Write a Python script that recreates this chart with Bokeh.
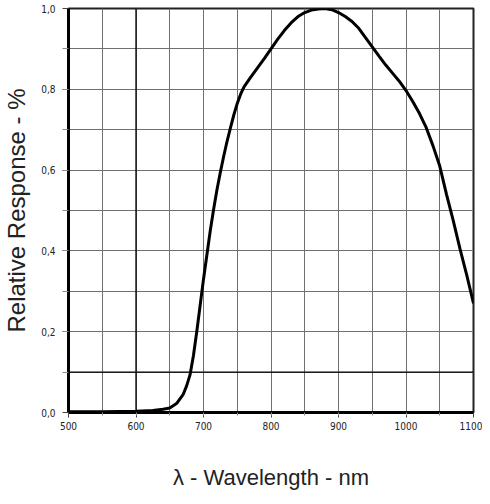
from bokeh.plotting import figure
from bokeh.models import FixedTicker, Span, Grid
from bokeh.embed import file_html
from bokeh.resources import INLINE

wavelength = [500, 550, 600, 625, 640, 650, 660, 670, 675, 680, 685, 690, 695, 700, 705,
              710, 715, 720, 725, 730, 735, 740, 745, 750, 755, 760, 770, 780, 790, 800,
              810, 820, 830, 840, 850, 860, 870, 880, 890, 900, 910, 920, 930, 940, 950,
              960, 970, 980, 990, 1000, 1010, 1020, 1030, 1040, 1050, 1060, 1070, 1080,
              1090, 1100]
response = [0.002, 0.002, 0.003, 0.005, 0.008, 0.011, 0.022, 0.045, 0.066, 0.093, 0.14,
            0.20, 0.265, 0.33, 0.39, 0.45, 0.503, 0.552, 0.595, 0.635, 0.672, 0.705, 0.737,
            0.765, 0.788, 0.806, 0.83, 0.853, 0.876, 0.90, 0.924, 0.946, 0.965, 0.98, 0.99,
            0.996, 0.999, 1.0, 0.997, 0.99, 0.98, 0.968, 0.951, 0.928, 0.905, 0.882, 0.86,
            0.84, 0.82, 0.797, 0.77, 0.74, 0.705, 0.66, 0.61, 0.54, 0.475, 0.405, 0.34,
            0.27]

x_ticks = [500, 600, 700, 800, 900, 1000, 1100]
x_grid = [550, 600, 650, 700, 750, 800, 850, 900, 950, 1000, 1050]
y_ticks = [0.0, 0.2, 0.4, 0.6, 0.8, 1.0]
y_tick_labels = ["0,0", "0,2", "0,4", "0,6", "0,8", "1,0"]
y_grid = [0.1, 0.2, 0.3, 0.4, 0.5, 0.6, 0.7, 0.8, 0.9]
dark_x = [600]
dark_y = [0.1]

FONT = "Liberation Sans"
TICK_FONT = "'Liberation Sans Narrow', 'DejaVu Sans Condensed', 'Liberation Sans'"

p = figure(frame_width=405, frame_height=404, x_range=(500, 1100), y_range=(0, 1.0),
           output_backend="svg", toolbar_location=None,
           min_border_left=68, min_border_right=9, min_border_top=8, min_border_bottom=84)
p.background_fill_color = "white"
p.border_fill_color = "white"
p.xgrid.visible = False
p.ygrid.visible = False

p.add_layout(Grid(dimension=0, ticker=FixedTicker(ticks=x_grid),
                  grid_line_color="#707070", grid_line_width=1))
p.add_layout(Grid(dimension=1, ticker=FixedTicker(ticks=y_grid),
                  grid_line_color="#707070", grid_line_width=1))
for xv in dark_x:
    p.add_layout(Span(location=xv, dimension="height", line_color="black", line_width=1.3))
for yv in dark_y:
    p.add_layout(Span(location=yv, dimension="width", line_color="black", line_width=1.3))

p.outline_line_color = "#222222"
p.outline_line_width = 2

# x axis
p.xaxis.ticker = FixedTicker(ticks=x_ticks, minor_ticks=x_grid)
p.xaxis.axis_line_width = 3
p.xaxis.axis_line_color = "black"
p.xaxis.major_tick_out = 5
p.xaxis.major_tick_in = 0
p.xaxis.minor_tick_out = 3
p.xaxis.minor_tick_in = 0
p.xaxis.major_tick_line_color = "#444444"
p.xaxis.minor_tick_line_color = "#888888"
p.xaxis.major_label_text_font = TICK_FONT
p.xaxis.major_label_text_font_size = "10px"
p.xaxis.major_label_text_color = "#222222"
p.xaxis.major_label_standoff = 4
p.xaxis.axis_label = "λ - Wavelength - nm"
p.xaxis.axis_label_text_font = FONT
p.xaxis.axis_label_text_font_size = "22px"
p.xaxis.axis_label_text_font_style = "normal"
p.xaxis.axis_label_text_color = "#222222"
p.xaxis.axis_label_standoff = 32

# y axis
p.yaxis.ticker = FixedTicker(ticks=y_ticks, minor_ticks=y_grid)
p.yaxis.major_label_overrides = {t: s for t, s in zip(y_ticks, y_tick_labels)}
p.yaxis.axis_line_width = 3
p.yaxis.axis_line_color = "black"
p.yaxis.major_tick_out = 6
p.yaxis.major_tick_in = 0
p.yaxis.minor_tick_out = 6
p.yaxis.minor_tick_in = 0
p.yaxis.major_tick_line_color = "#444444"
p.yaxis.minor_tick_line_color = "#888888"
p.yaxis.major_label_text_font = TICK_FONT
p.yaxis.major_label_text_font_size = "10px"
p.yaxis.major_label_text_color = "#222222"
p.yaxis.major_label_standoff = 7
p.yaxis.axis_label = "Relative Response - %"
p.yaxis.axis_label_text_font = FONT
p.yaxis.axis_label_text_font_size = "24px"
p.yaxis.axis_label_text_font_style = "normal"
p.yaxis.axis_label_text_color = "#222222"
p.yaxis.axis_label_standoff = 8

p.line(wavelength, response, line_color="black", line_width=3)

open("out.html", "w").write(file_html(p, INLINE))
